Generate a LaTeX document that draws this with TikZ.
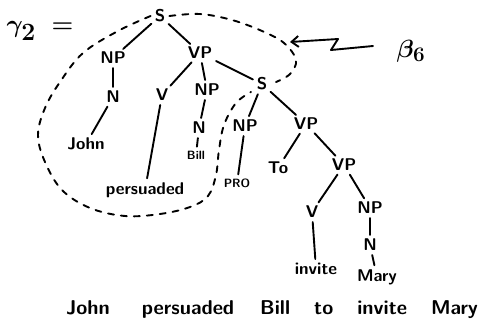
\documentclass[tikz,border=0pt]{standalone}
\usepackage{tikz}
\usetikzlibrary{arrows.meta}
\tikzset{
  cat/.style = {font = \sffamily\bfseries\fontsize{17}{18}\selectfont, inner sep = 1pt},
  word/.style = {font = \sffamily\bfseries\fontsize{17}{18}\selectfont, inner sep = 1pt},
  tiny/.style = {font = \sffamily\bfseries\fontsize{12}{13}\selectfont, inner sep = 1pt},
  branch/.style = {line width = 1.9pt, line cap = round, shorten > = 3pt, shorten < = 3pt},
  outline/.style = {line width = 1.9pt, line cap = round, dash pattern = on 6pt off 7pt},
  pointer/.style = {line width = 1.9pt, line cap = round, line join = round,
    -{Straight Barb[length = 7pt, width = 11pt]}}
}
\begin{document}
\begin{tikzpicture}[x = 1pt, y = -1pt]
      \useasboundingbox (0,0) rectangle (485,322);
      % labels of the elementary tree
      \node [font = \boldmath\fontsize{33}{35}\selectfont] (gam) at (40,31) {$\gamma_2\;=$};
      \node [font = \boldmath\fontsize{29}{31}\selectfont] (beta) at (411,51) {$\beta_6$};
      % upper part
      \node [cat] (S) at (160,16) {S};
      \node [cat] (np1) at (113,58) {NP};
      \node [cat] (vp1) at (200,53) {VP};
      \node [cat] (n1) at (113,97) {N};
      \node [word] (john) at (86,144) {John};
      \node [cat] (v1) at (162,95) {V};
      \node [cat] (np2) at (207,90) {NP};
      \node [cat] (n2) at (199,128) {N};
      \node [tiny] (bill) at (196,155) {Bill};
      \node [word] (pers) at (145,190) {persuaded};
      % foot of the tree
      \node [cat] (S2) at (262,84) {S};
      \node [cat] (np3) at (245,126) {NP};
      \node [tiny] (pro) at (237,183) {PRO};
      \node [cat] (vp2) at (306,124) {VP};
      \node [cat] (to) at (278,168) {To};
      \node [cat] (vp3) at (344,165) {VP};
      \node [cat] (v2) at (312,212) {V};
      \node [cat] (np4) at (370,208) {NP};
      \node [cat] (n4) at (370,245) {N};
      \node [word] (invite) at (316,269) {invite};
      \node [word] (mary) at (377,277) {Mary};
      \node [font = \sffamily\bfseries\fontsize{20}{22}\selectfont] (sent) at (272,310)
        {John\hspace{1.6em}persuaded\hspace{1.3em}Bill\hspace{1.2em}to\hspace{1.2em}invite\hspace{1.2em}Mary};
      % branches
      \draw [branch] (S) -- (np1);
      \draw [branch] (S) -- (vp1);
      \draw [branch] (np1) -- (n1);
      \draw [branch] (n1) -- (john);
      \draw [branch] (vp1) -- (v1);
      \draw [branch] (vp1) -- (np2);
      \draw [branch] (vp1) -- (S2);
      \draw [branch] (v1) -- (pers);
      \draw [branch] (np2) -- (n2);
      \draw [branch] (n2) -- (bill);
      \draw [branch] (S2) -- (np3);
      \draw [branch] (S2) -- (vp2);
      \draw [branch] (np3) -- (pro);
      \draw [branch] (vp2) -- (to);
      \draw [branch] (vp2) -- (vp3);
      \draw [branch] (vp3) -- (v2);
      \draw [branch] (vp3) -- (np4);
      \draw [branch] (v2) -- (invite);
      \draw [branch] (np4) -- (n4);
      \draw [branch] (n4) -- (mary);
      % the part that is beta_6
      \draw [outline] plot [smooth, tension = 0.6] coordinates {
        ([xshift = -3pt]S.west) (118,31) (83,53) (60,82) (45,108) (38,135) (45,162)
        (62,190) (90,208) (125,216) (160,214) (190,207) (208,196) (216,175)
        (219,150) (224,125) (236,103) (251,92)};
      \draw [outline] plot [smooth, tension = 0.6] coordinates {
        ([xshift = 3pt]S.east) (200,14) (232,20) (262,31) (284,43) (296,60)
        (290,74) (276,82)};
      \coordinate (tail) at (373,46);
      \coordinate (bend1) at (331,50);
      \coordinate (bend2) at (338,39);
      \coordinate (tip) at (290,42);
      \draw [pointer] (tail) -- (bend1) -- (bend2) -- (tip);
    \end{tikzpicture}
\end{document}
